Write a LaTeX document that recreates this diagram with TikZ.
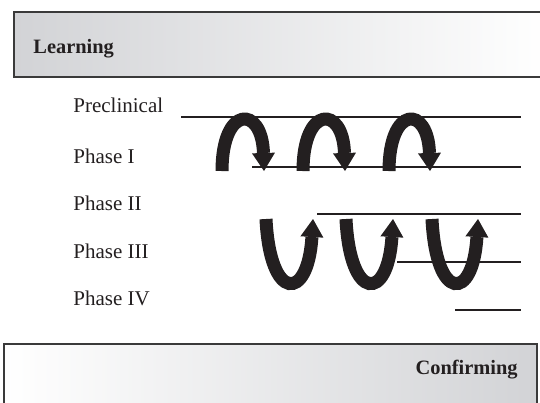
\documentclass[tikz,border=0pt]{standalone}
\usepackage{fontspec}
\setmainfont{Liberation Serif}
\usetikzlibrary{arrows.meta}
\definecolor{Ink}{HTML}{231F20}
\definecolor{Frame}{HTML}{3A3A3A}
\definecolor{Shade}{HTML}{D2D3D6}
\tikzset{
  band/.style={draw=Frame,line width=.6pt},
  title/.style={font=\fontsize{10.2}{12}\selectfont\bfseries,text=Ink,inner sep=0pt},
  phase/.style={font=\fontsize{10.5}{12}\selectfont,text=Ink,anchor=base west,inner sep=0pt},
  track/.style={draw=Ink,line width=1pt},
  bigarrow/.style={draw=Ink,line width=6.5pt,-{Triangle[length=9pt,width=11.5pt,line width=0pt]}}
}
\begin{document}
\begin{tikzpicture}[x=0.5pt,y=-0.5pt]
  \useasboundingbox (0,0) rectangle (540,402);
  % top and bottom bands
  \draw[band,left color=Shade,right color=white] (14,12) rectangle (548,77);
  \node[title,anchor=base west] (learn) at (33,53) {Learning};
  \draw[band,left color=white,right color=Shade] (4,344) rectangle (537,410);
  \node[title,anchor=base east] (confirm) at (518,374) {Confirming};
  % phase labels
  \node[phase] (pre) at (73,112) {Preclinical};
  \node[phase] (p1) at (73,163) {Phase I};
  \node[phase] (p2) at (73,210) {Phase II};
  \node[phase] (p3) at (73,258) {Phase III};
  \node[phase] (p4) at (73,305) {Phase IV};
  % tracks
  \coordinate (preL) at (181,117); \coordinate (preR) at (521,117);
  \coordinate (p1L) at (252,167);  \coordinate (p1R) at (521,167);
  \coordinate (p2L) at (317,214);  \coordinate (p2R) at (521,214);
  \coordinate (p3L) at (397,262);  \coordinate (p3R) at (521,262);
  \coordinate (p4L) at (455,310);  \coordinate (p4R) at (521,310);
  \foreach \t in {pre,p1,p2,p3,p4}
    \draw[track] (\t L) -- (\t R);
  % learning loops (down)
  \foreach \a/\b/\c in {222/262/264,303/343/345,389/428/430}
    \draw[bigarrow] (\a,171) .. controls (\a,105) and (\b,105) .. (\c,171);
  % confirming loops (up)
  \foreach \a/\b/\c/\d in {266/270/308/313,346/350/388/393,432/436/473/478}
    \draw[bigarrow] (\a,219) .. controls (\b,302) and (\c,302) .. (\d,219);
\end{tikzpicture}
\end{document}
